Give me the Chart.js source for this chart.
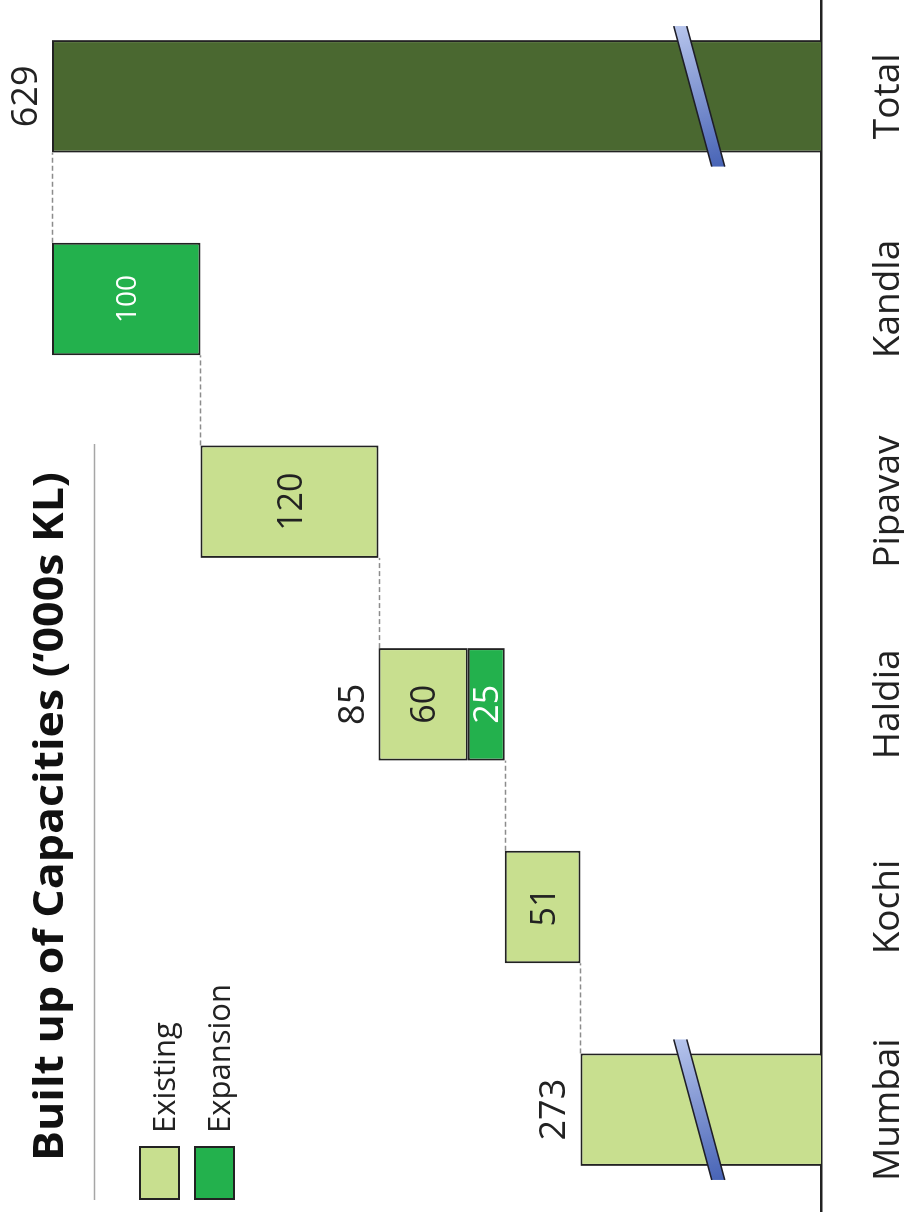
<!DOCTYPE html>
<html>
<head>
<meta charset="utf-8">
<title>Built up of Capacities</title>
<script src="https://cdn.jsdelivr.net/npm/chart.js@4.4.0/dist/chart.umd.min.js"></script>
<style>
  html, body { margin: 0; padding: 0; background: #fff; width: 904px; height: 1215px; overflow: hidden; }
  /* chart is laid out landscape and turned on its side */
  #wrap { position: absolute; left: 0; top: 0; width: 1222px; height: 904px; background: #fff; overflow: hidden;
          transform-origin: 0 0; transform: translate(0, 1215px) rotate(-90deg); }
  #wrap canvas { display: block; }
  #edge { position: absolute; left: 0; top: 1203px; width: 818px; height: 12px; background: #fff; }
</style>
</head>
<body>
<div id="wrap"><canvas id="capacity-chart" width="1222" height="904"></canvas></div>
<div id="edge"></div>
<script>
var ports = ["Mumbai", "Kochi", "Haldia", "Pipavav", "Kandla"];
var existing = [273, 51, 60, 120, 0];
var expansion = [0, 0, 25, 0, 100];
var totalLabel = "Total";
var title = "Built up of Capacities (\u2018000s KL)";

var axisFloor = 111;   // axis is broken, everything below this is cut off
var axisTop = 664;
var breakAt = 193;     // where the break marks cross the long bars

var FONT = '"Open Sans", "Noto Sans", sans-serif';
var existingColor = '#c8df8f';
var expansionColor = '#23b14d';
var totalColor = '#4a6830';
var insideSize = { Kandla: 28 };

// build the floating waterfall pieces
var labels = ports.concat([totalLabel]);
var existingBars = [], expansionBars = [], totalBars = [], tops = [];
var running = 0;
ports.forEach(function (p, i) {
  expansionBars.push(expansion[i] ? [running, running + expansion[i]] : null);
  running += expansion[i];
  existingBars.push(existing[i] ? [running, running + existing[i]] : null);
  running += existing[i];
  totalBars.push(null);
  tops.push(running);
});
existingBars.push(null);
expansionBars.push(null);
totalBars.push([0, running]);

function barDataset(label, data, color) {
  return {
    label: label,
    data: data,
    backgroundColor: color,
    borderColor: '#222',
    borderWidth: 2,
    borderSkipped: false,
    barPercentage: 0.555,
    categoryPercentage: 1,
    clip: 0
  };
}

var waterfallExtras = {
  id: 'waterfallExtras',
  afterDatasetsDraw: function (chart) {
    var ctx = chart.ctx;
    var y = chart.scales.y;
    var exMeta = chart.getDatasetMeta(0);
    var xpMeta = chart.getDatasetMeta(1);
    var totMeta = chart.getDatasetMeta(2);
    var barAt = function (j) {
      if (j === ports.length) return totMeta.data[j];
      return existingBars[j] ? exMeta.data[j] : xpMeta.data[j];
    };

    ctx.beginPath();

    // dashed connectors between bars
    ctx.save();
    ctx.strokeStyle = '#8c8c8c';
    ctx.lineWidth = 1.5;
    ctx.setLineDash([5, 3]);
    tops.forEach(function (level, j) {
      var a = barAt(j), b = barAt(j + 1);
      var py = Math.round(y.getPixelForValue(level)) + 0.5;
      ctx.beginPath();
      ctx.moveTo(a.x + a.width / 2, py);
      ctx.lineTo(b.x - b.width / 2, py);
      ctx.stroke();
    });
    ctx.restore();

    // break marks on bars that start below the axis floor
    var drawBreak = function (bar) {
      var cy = y.getPixelForValue(breakAt);
      var half = bar.width / 2 + 14;
      var x0 = bar.x - half, x1 = bar.x + half;
      var dy = 19, t = 6.5;
      var g = ctx.createLinearGradient(x1, cy - dy, x0, cy + dy);
      g.addColorStop(0, '#b6c4ec');
      g.addColorStop(1, '#4864b6');
      ctx.save();
      ctx.beginPath();
      ctx.moveTo(x1, cy - dy - t);
      ctx.lineTo(x1, cy - dy + t);
      ctx.lineTo(x0, cy + dy + t);
      ctx.lineTo(x0, cy + dy - t);
      ctx.closePath();
      ctx.fillStyle = g;
      ctx.fill();
      ctx.strokeStyle = '#1e1e28';
      ctx.lineWidth = 1.6;
      ctx.beginPath();
      ctx.moveTo(x1, cy - dy - t); ctx.lineTo(x0, cy + dy - t);
      ctx.moveTo(x1, cy - dy + t); ctx.lineTo(x0, cy + dy + t);
      ctx.stroke();
      ctx.restore();
    };

    var aboveAt = function (bar, text, level) {
      ctx.font = '36px ' + FONT;
      ctx.fillStyle = '#222';
      ctx.textAlign = 'center';
      ctx.textBaseline = 'alphabetic';
      ctx.fillText(text, bar.x, y.getPixelForValue(level) - 15);
    };
    var inside = function (bar, range, color, size) {
      ctx.font = size + 'px ' + FONT;
      ctx.fillStyle = color;
      ctx.textAlign = 'center';
      ctx.textBaseline = 'alphabetic';
      var mid = (y.getPixelForValue(range[0]) + y.getPixelForValue(range[1])) / 2;
      ctx.fillText(String(range[1] - range[0]), bar.x, mid + size * 0.357);
    };

    ports.forEach(function (p, j) {
      var size = insideSize[p] || 34;
      var segs = [];
      if (expansionBars[j]) segs.push({ bar: xpMeta.data[j], range: expansionBars[j], color: '#fff' });
      if (existingBars[j]) segs.push({ bar: exMeta.data[j], range: existingBars[j], color: '#222' });
      var low = segs[0].range[0];
      if (low < axisFloor) {
        drawBreak(segs[0].bar);
        aboveAt(segs[0].bar, String(tops[j] - low), tops[j]);
        return;
      }
      segs.forEach(function (s) { inside(s.bar, s.range, s.color, size); });
      if (segs.length > 1) aboveAt(segs[0].bar, String(tops[j] - low), tops[j]);
    });

    var tot = totMeta.data[ports.length];
    drawBreak(tot);
    aboveAt(tot, String(running), running);
    ctx.beginPath();
  },
  afterDraw: function (chart) {
    var ctx = chart.ctx;
    ctx.beginPath();
    ctx.save();
    // title, squeezed to its line length
    ctx.fillStyle = '#111';
    ctx.font = 'bold 41px ' + FONT;
    ctx.textBaseline = 'alphabetic';
    ctx.textAlign = 'left';
    var w = ctx.measureText(title).width;
    ctx.translate(54, 63);
    ctx.scale(689 / w, 1);
    ctx.fillText(title, 0, 0);
    ctx.restore();

    ctx.save();
    ctx.strokeStyle = '#a6a6a6';
    ctx.lineWidth = 1.5;
    ctx.beginPath();
    ctx.moveTo(15, 94.5);
    ctx.lineTo(771, 94.5);
    ctx.stroke();

    // legend
    var items = [chart.data.datasets[0], chart.data.datasets[1]];
    items.forEach(function (ds, k) {
      var top = 140 + k * 55;
      ctx.fillStyle = ds.backgroundColor;
      ctx.fillRect(16, top, 52, 39);
      ctx.strokeStyle = '#222';
      ctx.lineWidth = 2;
      ctx.strokeRect(16, top, 52, 39);
      ctx.fillStyle = '#222';
      ctx.font = '31px ' + FONT;
      ctx.textAlign = 'left';
      ctx.textBaseline = 'alphabetic';
      ctx.fillText(ds.label, 82, top + 35);
    });
    ctx.restore();
  }
};

new Chart(document.getElementById('capacity-chart'), {
  type: 'bar',
  data: {
    labels: labels,
    datasets: [
      barDataset('Existing', existingBars, existingColor),
      barDataset('Expansion', expansionBars, expansionColor),
      barDataset('Total', totalBars, totalColor)
    ]
  },
  options: {
    responsive: false,
    animation: false,
    layout: { padding: { left: 4, right: 2, top: 0, bottom: 0 } },
    plugins: {
      legend: { display: false },
      tooltip: { enabled: false }
    },
    scales: {
      x: {
        stacked: true,
        grid: { display: false },
        border: { display: true, color: '#222', width: 2.5 },
        ticks: {
          color: '#222',
          font: { family: FONT, size: 37 },
          padding: 37,
          maxRotation: 0,
          autoSkip: false
        },
        afterFit: function (scale) {
          scale.height = 83;
          scale.paddingLeft = 0;
          scale.paddingRight = 0;
        }
      },
      y: { display: false, min: axisFloor, max: axisTop }
    }
  },
  plugins: [waterfallExtras]
});
</script>
</body>
</html>
